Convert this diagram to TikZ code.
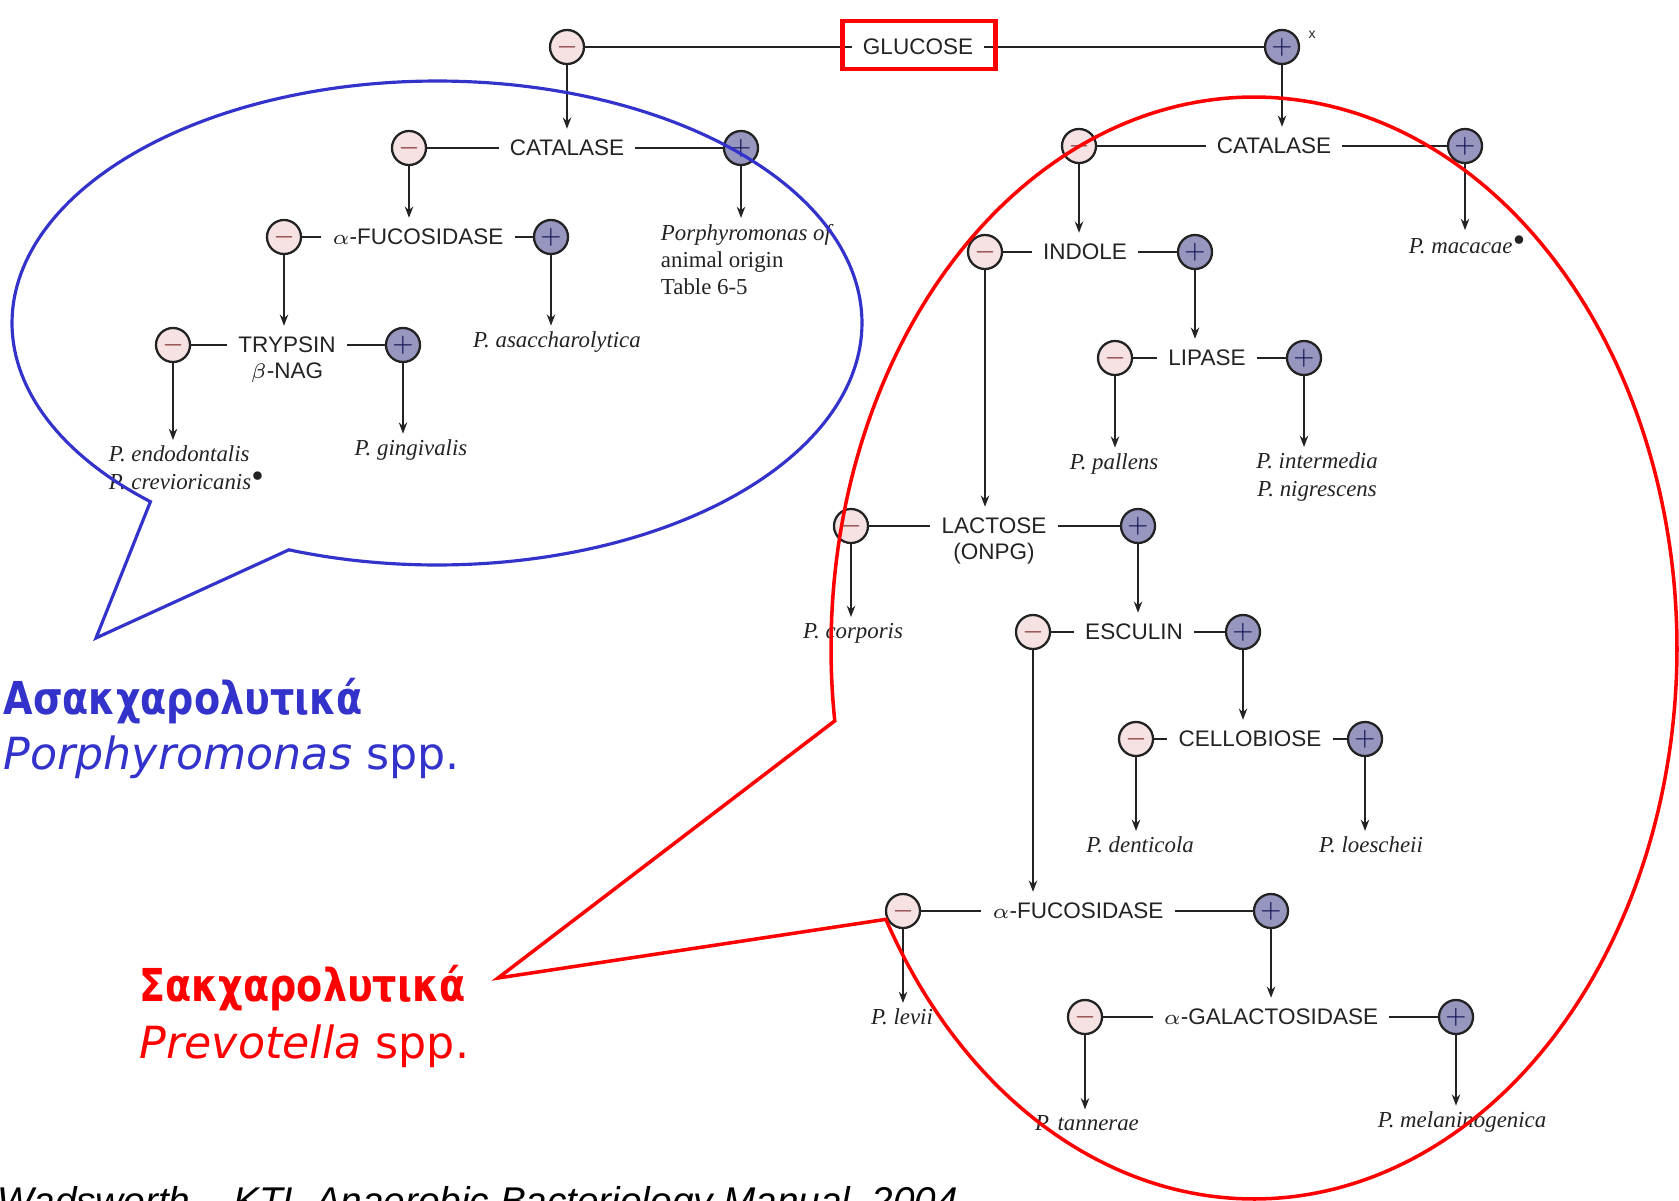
\documentclass[tikz,border=0pt]{standalone}
\usepackage{fontspec}
\setmainfont{Liberation Serif}
\newfontfamily\hv{Liberation Sans}
\newfontfamily\dv{DejaVu Sans}
\usetikzlibrary{arrows.meta}
\definecolor{mfill}{RGB}{246,226,226}
\definecolor{pfill}{RGB}{150,150,190}
\definecolor{mglyph}{RGB}{130,50,50}
\definecolor{pglyph}{RGB}{25,25,90}
\definecolor{ink}{RGB}{35,35,35}
\definecolor{bblue}{RGB}{51,51,204}
\definecolor{rred}{RGB}{255,0,0}
\begin{document}
\begin{tikzpicture}[x=0.01cm,y=-0.01cm,
 sgn/.style={circle, draw=ink, line width=0.65pt, minimum size=0.34cm, inner sep=0pt, font=\fontsize{7}{7}\selectfont},
 negc/.style={sgn, fill=mfill, text=mglyph},
 posc/.style={sgn, fill=pfill, text=pglyph},
 test/.style={font=\hv\fontsize{6.4}{7.5}\selectfont, text=ink, inner sep=3pt},
 test2/.style={font=\hv\fontsize{6.4}{7.5}\selectfont, text=ink, inner sep=0pt},
 spec/.style={font=\fontsize{6.5}{7.8}\selectfont\itshape, text=ink, inner sep=1.5pt, align=center},
 hl/.style={draw=ink, line width=0.65pt},
 arr/.style={draw=ink, line width=0.45pt, -{Stealth[length=3.2pt,width=2.4pt]}},
 gk/.style={anchor=base west, inner sep=0pt, font=\dv\bfseries\fontsize{12.9}{14}\selectfont, xscale=0.84},
 lat/.style={anchor=base west, inner sep=0pt, font=\dv\fontsize{12.6}{14}\selectfont},
]
\clip (0,0) rectangle (1679,1200);
\fill[white] (0,0) rectangle (1679,1200);

% ---- top
\node[test] (g) at (918,47) {GLUCOSE};
\node[negc] (gm) at (567,47) {$-$};
\node[posc] (gp) at (1282,47) {$+$};
\node[font=\hv\fontsize{4}{4}\selectfont, text=ink, inner sep=0pt] (gx) at (1312,35) {x};
\draw[hl] (gm) -- (g);
\draw[hl] (g) -- (gp);
\node[draw=rred, line width=1.2pt, minimum width=1.53cm, minimum height=0.48cm] (gbox) at (919,45) {};

% ---- left tree
\node[test] (lc) at (567,148) {CATALASE};
\node[negc] (lcm) at (409,148) {$-$};
\node[posc] (lcp) at (741,148) {$+$};
\draw[hl] (lcm) -- (lc);
\draw[hl] (lc) -- (lcp);
\draw[arr] (gm) -- (gm |- lc.north);
\node[anchor=north west, inner sep=1.5pt, align=left, font=\fontsize{6.5}{7.7}\selectfont, text=ink] (pao) at (655,218) {\textit{Porphyromonas of}\\animal origin\\Table 6-5};
\draw[arr] (lcp) -- (lcp |- pao.north);

\node[test] (lf) at (418,237) {$\alpha$-FUCOSIDASE};
\node[negc] (lfm) at (284,237) {$-$};
\node[posc] (lfp) at (551,237) {$+$};
\draw[hl] (lfm) -- (lf);
\draw[hl] (lf) -- (lfp);
\draw[arr] (lcm) -- (lcm |- lf.north);
\node[spec] (pas) at (557,342) {P. asaccharolytica};
\draw[arr] (lfp) -- (lfp |- pas.north);

\node[test] (lt) at (287,345) {TRYPSIN};
\node[test2] (lt2) at (287,373) {$\beta$-NAG};
\node[negc] (ltm) at (173,345) {$-$};
\node[posc] (ltp) at (403,345) {$+$};
\draw[hl] (ltm) -- (lt);
\draw[hl] (lt) -- (ltp);
\draw[arr] (lfm) -- (lfm |- lt.north);
\node[spec, align=left, anchor=north west] (pen) at (103,440) {P. endodontalis\\P. crevioricanis$^{\bullet}$};
\draw[arr] (ltm) -- (ltm |- pen.north);
\node[spec] (pgi) at (411,450) {P. gingivalis};
\draw[arr] (ltp) -- (ltp |- pgi.north);

% ---- right tree
\node[test] (rc) at (1274,146) {CATALASE};
\node[negc] (rcm) at (1079,146) {$-$};
\node[posc] (rcp) at (1465,146) {$+$};
\draw[hl] (rcm) -- (rc);
\draw[hl] (rc) -- (rcp);
\draw[arr] (gp) -- (gp |- rc.north);
\node[spec] (pma) at (1468,245) {P. macacae$^{\bullet}$};
\draw[arr] (rcp) -- (rcp |- pma.north);

\node[test] (ri) at (1085,252) {INDOLE};
\node[negc] (rim) at (985,252) {$-$};
\node[posc] (rip) at (1195,252) {$+$};
\draw[hl] (rim) -- (ri);
\draw[hl] (ri) -- (rip);
\draw[arr] (rcm) -- (rcm |- ri.north);

\node[test] (rl) at (1207,358) {LIPASE};
\node[negc] (rlm) at (1115,358) {$-$};
\node[posc] (rlp) at (1304,358) {$+$};
\draw[hl] (rlm) -- (rl);
\draw[hl] (rl) -- (rlp);
\draw[arr] (rip) -- (rip |- rl.north);
\node[spec] (ppa) at (1114,464) {P. pallens};
\draw[arr] (rlm) -- (rlm |- ppa.north);
\node[spec] (pin) at (1317,477) {P. intermedia\\P. nigrescens};
\draw[arr] (rlp) -- (rlp |- pin.north);

\node[test] (rla) at (994,526) {LACTOSE};
\node[test2] (rla2) at (994,554) {(ONPG)};
\node[negc] (rlam) at (851,526) {$-$};
\node[posc] (rlap) at (1138,526) {$+$};
\draw[hl] (rlam) -- (rla);
\draw[hl] (rla) -- (rlap);
\draw[arr] (rim) -- (rim |- rla.north);
\node[spec] (pco) at (853,633) {P. corporis};
\draw[arr] (rlam) -- (rlam |- pco.north);

\node[test] (re) at (1134,632) {ESCULIN};
\node[negc] (rem) at (1033,632) {$-$};
\node[posc] (rep) at (1243,632) {$+$};
\draw[hl] (rem) -- (re);
\draw[hl] (re) -- (rep);
\draw[arr] (rlap) -- (rlap |- re.north);

\node[test] (rcb) at (1250,739) {CELLOBIOSE};
\node[negc] (rcbm) at (1136,739) {$-$};
\node[posc] (rcbp) at (1365,739) {$+$};
\draw[hl] (rcbm) -- (rcb);
\draw[hl] (rcb) -- (rcbp);
\draw[arr] (rep) -- (rep |- rcb.north);
\node[spec] (pde) at (1140,845) {P. denticola};
\draw[arr] (rcbm) -- (rcbm |- pde.north);
\node[spec] (plo) at (1371,845) {P. loescheii};
\draw[arr] (rcbp) -- (rcbp |- plo.north);

\node[test] (rf) at (1078,911) {$\alpha$-FUCOSIDASE};
\node[negc] (rfm) at (903,911) {$-$};
\node[posc] (rfp) at (1271,911) {$+$};
\draw[hl] (rfm) -- (rf);
\draw[hl] (rf) -- (rfp);
\draw[arr] (rem) -- (rem |- rf.north);
\node[spec] (ple) at (902,1017) {P. levii};
\draw[arr] (rfm) -- (rfm |- ple.north);

\node[test] (rg) at (1271,1017) {$\alpha$-GALACTOSIDASE};
\node[negc] (rgm) at (1085,1017) {$-$};
\node[posc] (rgp) at (1456,1017) {$+$};
\draw[hl] (rgm) -- (rg);
\draw[hl] (rg) -- (rgp);
\draw[arr] (rfp) -- (rfp |- rg.north);
\node[spec] (pta) at (1087,1123) {P. tannerae};
\draw[arr] (rgm) -- (rgm |- pta.north);
\node[spec] (pme) at (1462,1122) {P. melaninogenica};
\draw[arr] (rgp) -- (rgp |- pme.north);

% ---- callouts
\draw[bblue, line width=0.9pt] plot[domain=132.4:470.4, samples=240] ({437+425*cos(\x)},{323+242*sin(\x)}) -- (96,638) -- cycle;
\draw[rred, line width=1pt] plot[domain=172.4:510.5, samples=280] ({1254+423*cos(\x)},{648+551*sin(\x)}) -- (498,978) -- cycle;

% ---- labels
\node[gk, text=bblue] (asak) at (3,714) {Ασακχαρολυτικά};
\node[lat, text=bblue] (porph) at (3,769) {\textit{Porphyromonas} spp.};
\node[gk, text=rred] (sak) at (139,1001) {Σακχαρολυτικά};
\node[lat, text=rred] (prev) at (139,1058) {\textit{Prevotella} spp.};
\node[anchor=base west, inner sep=0pt, font=\hv\itshape\fontsize{11}{12}\selectfont, text=black] (cite) at (-3,1214) {Wadsworth – KTL Anaerobic Bacteriology Manual, 2004};
\end{tikzpicture}
\end{document}
